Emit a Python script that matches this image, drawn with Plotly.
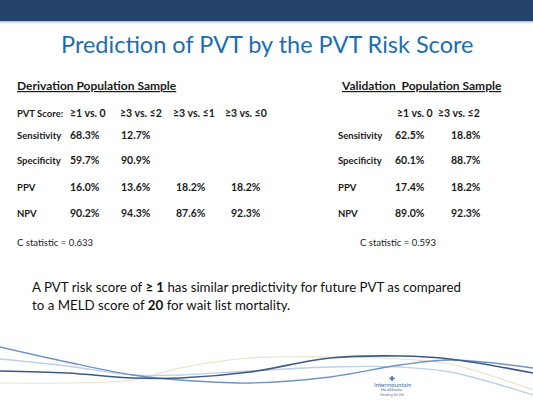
import plotly.graph_objects as go

# ---------------- data ----------------
title_text = "Prediction of PVT by the PVT Risk Score"

deriv_title = "Derivation Population Sample"
deriv_header = ["PVT Score:", "≥1 vs. 0", "≥3 vs. ≤2", "≥3 vs. ≤1", "≥3 vs. ≤0"]
row_labels = ["Sensitivity", "Specificity", "PPV", "NPV"]
deriv_col1 = ["68.3%", "59.7%", "16.0%", "90.2%"]
deriv_col2 = ["12.7%", "90.9%", "13.6%", "94.3%"]
deriv_col3 = ["", "", "18.2%", "87.6%"]
deriv_col4 = ["", "", "18.2%", "92.3%"]
deriv_cstat = "C statistic = 0.633"

valid_title = "Validation  Population Sample"
valid_header = ["≥1 vs. 0", "≥3 vs. ≤2"]
valid_col1 = ["62.5%", "60.1%", "17.4%", "89.0%"]
valid_col2 = ["18.8%", "88.7%", "18.2%", "92.3%"]
valid_cstat = "C statistic = 0.593"

statement_1 = "A PVT risk score of <b>≥ 1</b> has similar predictivity for future PVT as compared"
statement_2 = "to a MELD score of <b>20</b> for wait list mortality."

# decorative wave lines (slide background)
wave_x = [0, 67, 133, 180, 250, 330, 400, 450, 533]
wave_navy = [371, 373, 378, 378, 372, 358, 356, 359, 373]
wave_mid = [347, 362, 375, 380, 383, 377, 365, 360, 368]
wave_light = [359, 366, 375, 375, 371, 367, 367, 372, 395]
wave_beige = [383, 383, 380, 368, 358, 357, 359, 364, 390]

# ---------------- layout helpers ----------------
W, H = 533, 413
FONT = "Lato, Roboto, sans-serif"
TXT = "#1a1a1a"

fig = go.Figure()

# waves
for ys, col, wd in [(wave_beige, "#e9e1c9", 1.2), (wave_light, "#bcd0e6", 1.3),
                    (wave_mid, "#6f93c2", 1.3), (wave_navy, "#3d5a82", 1.6)]:
    fig.add_trace(go.Scatter(x=wave_x, y=ys, mode="lines",
                             line=dict(color=col, width=wd, shape="spline", smoothing=1.0),
                             hoverinfo="skip", showlegend=False))

ann = []
def txt(x, y, s, size=11, bold=True, anchor="left", color=TXT, family=FONT):
    ann.append(dict(x=x, y=y, xref="x", yref="y", text=(f"<b>{s}</b>" if bold else s),
                    showarrow=False, xanchor=anchor, yanchor="middle",
                    borderpad=0, borderwidth=0,
                    font=dict(family=family, size=size, color=color)))

# title
txt(W / 2, 44, title_text, size=23.5, bold=False, anchor="center", color="#1c6db3")

# derivation block
txt(17, 85, f"<u>{deriv_title}</u>", size=12)
row_y = [135, 160, 187, 213]
head_x = [17, 70, 120, 173, 225]
for hx, h in zip(head_x, deriv_header):
    txt(hx, 113, h, size=9.5 if hx == 17 else 10.5)
cols = [deriv_col1, deriv_col2, deriv_col3, deriv_col4]
col_x = [70, 121, 176, 231]
for i, lab in enumerate(row_labels):
    txt(17, row_y[i], lab, size=9.5)
    for cx, col in zip(col_x, cols):
        if col[i]:
            txt(cx, row_y[i], col[i], size=10.5)
txt(17, 242, deriv_cstat, size=9.5, bold=False)

# validation block
txt(341, 85, f"<u>{valid_title}</u>", size=12)
txt(397, 113, valid_header[0], size=10.5)
txt(438, 113, valid_header[1], size=10.5)
for i, lab in enumerate(row_labels):
    txt(338, row_y[i], lab, size=9.5)
    txt(395, row_y[i], valid_col1[i], size=10.5)
    txt(481, row_y[i], valid_col2[i], size=10.5, anchor="right")
txt(360, 242, valid_cstat, size=9.5, bold=False)

# statement
txt(32, 287, statement_1, size=13.3, bold=False, color="#111111")
txt(32, 305, statement_2, size=13.3, bold=False, color="#111111")

# logo
txt(392, 378, "✚", size=7, bold=False, anchor="center", color="#3c6aa5")
txt(392, 384, "Intermountain", size=6, bold=False, anchor="center", color="#3c6aa5")
txt(392, 389, "Healthcare", size=4.5, bold=False, anchor="center", color="#3c6aa5")
txt(392, 394, "<i>Healing for life</i>", size=4, bold=False, anchor="center", color="#6b7f99")

shapes = [
    dict(type="rect", xref="x", yref="y", x0=0, x1=W, y0=0, y1=21.5,
         fillcolor="#244569", line=dict(width=0), layer="below"),
    dict(type="rect", xref="x", yref="y", x0=0, x1=W, y0=21.5, y1=23.5,
         fillcolor="#dfe4ea", line=dict(width=0), layer="below"),
]

fig.update_layout(
    width=W, height=H, margin=dict(l=0, r=0, t=0, b=0),
    paper_bgcolor="white", plot_bgcolor="white",
    xaxis=dict(range=[0, W], visible=False, fixedrange=True),
    yaxis=dict(range=[H, 0], visible=False, fixedrange=True),
    annotations=ann, shapes=shapes, showlegend=False,
)

fig.write_html(
    "out.html",
    config={"displayModeBar": False},
    post_script="document.body.style.margin='0';document.body.style.padding='0';document.body.style.overflow='hidden';",
)
